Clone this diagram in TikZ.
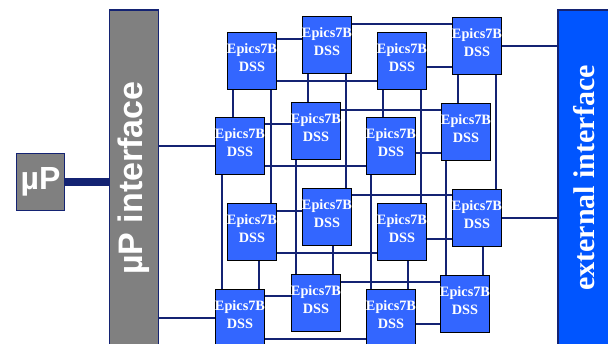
\documentclass[tikz,border=0pt]{standalone}
\usepackage{fontspec}
\setmainfont{Liberation Serif}
\newfontfamily\arialfont{Liberation Sans}
\definecolor{navy}{RGB}{20,35,115}
\definecolor{dssblue}{RGB}{51,102,255}
\definecolor{extblue}{RGB}{0,85,255}
\definecolor{bargray}{RGB}{128,128,128}
\begin{document}
\begin{tikzpicture}[x=1pt,y=-1pt,
  dss/.style={draw=black, line width=1.8pt, fill=dssblue, minimum width=49pt, minimum height=57pt, inner sep=0pt},
  dsstext/.style={align=center, inner sep=0pt, text=white, font=\fontsize{14.3}{18}\selectfont\bfseries},
  wire/.style={draw=navy, line width=1.6pt},
  graybar/.style={draw=navy, line width=1.2pt, fill=bargray, minimum width=49pt, inner sep=0pt},
  extbar/.style={draw=navy, line width=1.2pt, fill=extblue, minimum width=52pt, inner sep=0pt},
  bartext/.style={rotate=90, text=white, inner sep=0pt}]
\useasboundingbox (0,0) rectangle (608,343);
\clip (0,0) rectangle (608,343);

% bars
\node[graybar, minimum height=336pt] (upi) at (134,178) {};
\node[bartext, font=\arialfont\bfseries\fontsize{34}{34}\selectfont] (upitext) at (134,178) {µP interface};
\node[extbar, minimum height=336pt] (ext) at (584,178) {};
\node[bartext, font=\bfseries\fontsize{30}{30}\selectfont] (exttext) at (584,178) {external interface};
\node[draw=navy, line width=1.2pt, fill=bargray, minimum width=48pt, minimum height=57pt, inner sep=0pt,
  text=white, font=\arialfont\bfseries\fontsize{32}{32}\selectfont] (up) at (40.5,182) {µP};
\draw[navy, line width=8.5pt] (up.east) -- (up.east -| upi.west);

% DSS box positions
\path
  (252,61) coordinate (pA1) (240,146) coordinate (pA2) (252,232) coordinate (pA3) (240,318) coordinate (pA4)
  (327,45) coordinate (pB1) (316,131) coordinate (pB2) (327,217) coordinate (pB3) (316,303) coordinate (pB4)
  (402,61) coordinate (pC1) (391,146) coordinate (pC2) (402,232) coordinate (pC3) (391,318) coordinate (pC4)
  (477,46) coordinate (pD1) (466,132) coordinate (pD2) (477,218) coordinate (pD3) (465,304) coordinate (pD4);

% placeholders for anchors (drawn later on top of wires)
\foreach \n in {A1,A2,A3,A4,B1,B2,B3,B4,C1,C2,C3,C4,D1,D2,D3,D4}
  \path (p\n) node[dss, draw=none, fill=none] (\n) {};

% wires: vertical
\draw[wire] (A1.south -| 233,0) -- (A2.north -| 233,0);
\draw[wire] (A1.south -| 271,0) -- (A3.north -| 271,0);
\draw[wire] (A2.south -| 222,0) -- (A4.north -| 222,0);
\draw[wire] (A3.south -| 259,0) -- (A4.north -| 259,0);
\draw[wire] (B1.south -| 308,0) -- (B2.north -| 308,0);
\draw[wire] (B1.south -| 346,0) -- (B3.north -| 346,0);
\draw[wire] (B2.south -| 296,0) -- (B4.north -| 296,0);
\draw[wire] (B3.south -| 333,0) -- (B4.north -| 333,0);
\draw[wire] (C1.south -| 383,0) -- (C2.north -| 383,0);
\draw[wire] (C1.south -| 421,0) -- (C3.north -| 421,0);
\draw[wire] (C2.south -| 371,0) -- (C4.north -| 371,0);
\draw[wire] (C3.south -| 408,0) -- (C4.north -| 408,0);
\draw[wire] (D1.south -| 458,0) -- (D2.north -| 458,0);
\draw[wire] (D1.south -| 496,0) -- (D3.north -| 496,0);
\draw[wire] (D2.south -| 446,0) -- (D4.north -| 446,0);
\draw[wire] (D3.south -| 483,0) -- (D4.north -| 483,0);
% wires: horizontal
\draw[wire] (A1.east |- 0,39) -- (B1.west |- 0,39);
\draw[wire] (A1.east |- 0,81) -- (C1.west |- 0,81);
\draw[wire] (B1.east |- 0,24) -- (D1.west |- 0,24);
\draw[wire] (C1.east |- 0,67) -- (D1.west |- 0,67);
\draw[wire] (A2.east |- 0,124) -- (B2.west |- 0,124);
\draw[wire] (A2.east |- 0,166) -- (C2.west |- 0,166);
\draw[wire] (B2.east |- 0,110) -- (D2.west |- 0,110);
\draw[wire] (C2.east |- 0,153) -- (D2.west |- 0,153);
\draw[wire] (A3.east |- 0,211) -- (B3.west |- 0,211);
\draw[wire] (A3.east |- 0,253) -- (C3.west |- 0,253);
\draw[wire] (B3.east |- 0,195) -- (D3.west |- 0,195);
\draw[wire] (C3.east |- 0,239) -- (D3.west |- 0,239);
\draw[wire] (A4.east |- 0,296) -- (B4.west |- 0,296);
\draw[wire] (A4.east |- 0,339) -- (C4.west |- 0,339);
\draw[wire] (B4.east |- 0,282) -- (D4.west |- 0,282);
\draw[wire] (C4.east |- 0,324) -- (D4.west |- 0,324);
% wires to interfaces
\draw[wire] (upi.east |- A2.west) -- (A2.west);
\draw[wire] (upi.east |- A4.west) -- (A4.west);
\draw[wire] (D1.east) -- (D1.east -| ext.west);
\draw[wire] (D3.east) -- (D3.east -| ext.west);

% DSS boxes
\foreach \n in {A1,A2,A3,A4,B1,B2,B3,B4,C1,C2,C3,C4,D1,D2,D3,D4} {
  \node[dss] (box\n) at (p\n) {};
  \node[dsstext, yshift=3.5pt] (txt\n) at (box\n.center) {Epics7B\\DSS};
}
\end{tikzpicture}
\end{document}
